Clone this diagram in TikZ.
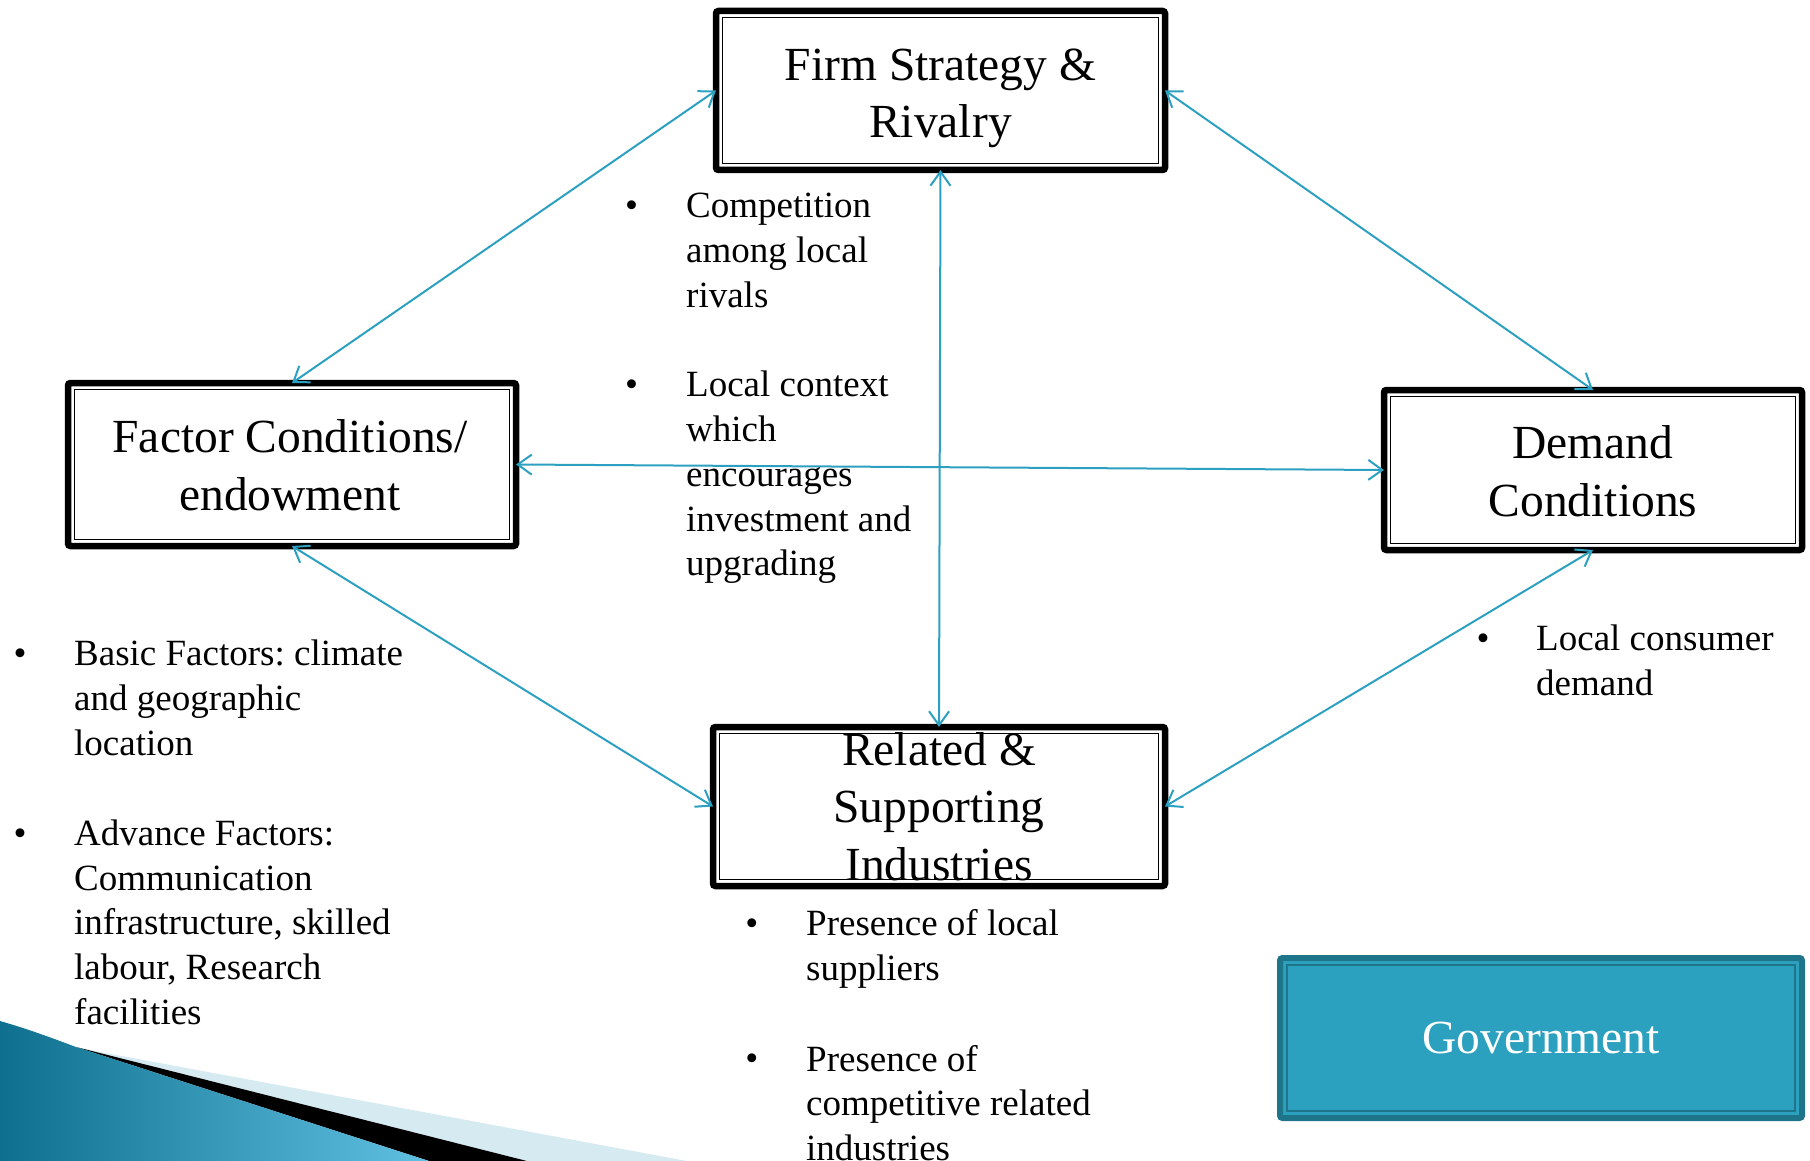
\documentclass[tikz,border=0pt]{standalone}
\usepackage{fontspec}
\setmainfont{Liberation Serif}
\usetikzlibrary{arrows.meta}
\definecolor{arrowc}{RGB}{44,160,192}
\definecolor{govfill}{RGB}{44,161,191}
\definecolor{govdark}{RGB}{30,117,137}
\definecolor{swoosha}{RGB}{14,112,142}
\definecolor{swooshb}{RGB}{96,192,226}
\definecolor{paleblue}{RGB}{214,234,242}
\frenchspacing
\begin{document}
\begin{tikzpicture}[x=1pt,y=-1pt,
  box/.style={draw=black, line width=6.5pt, rounded corners=2.5pt, inner sep=0pt, outer sep=0pt},
  innerline/.style={draw=black, line width=1.4pt},
  title/.style={font=\fontsize{47.5}{57.5}\selectfont, align=center, anchor=north, inner sep=0pt},
  bultext/.style={font=\fontsize{37}{44.7}\selectfont, align=left, anchor=north west, inner sep=0pt},
  bulmark/.style={font=\fontsize{37}{44.7}\selectfont, anchor=base west, inner sep=0pt},
  conn/.style={draw=arrowc, line width=2pt, {Straight Barb[length=14pt,width=20pt]}-{Straight Barb[length=14pt,width=20pt]}},
  govbox/.style={draw=govdark, fill=govfill, line width=6pt, rounded corners=2.5pt, inner sep=0pt, outer sep=0pt,
    text=white, font=\fontsize{47.5}{57.5}\selectfont}
]
\useasboundingbox (0,0) rectangle (1810,1161);

% decorative swoosh
\fill[paleblue] (68,1046) -- (687,1161) -- (527,1161) -- cycle;
\fill[black] (76,1047) -- (527,1161) -- (429,1161) -- cycle;
\shade[left color=swoosha, right color=swooshb] (0,1021) .. controls (28,1029) and (52,1038) .. (76,1047) -- (429,1161) -- (0,1161) -- cycle;

% boxes
\node[box, minimum width=449pt, minimum height=159pt] (firm) at (940.5,90.5) {};
\node[box, minimum width=448pt, minimum height=163pt] (factor) at (292,464.5) {};
\node[box, minimum width=418pt, minimum height=160pt] (demand) at (1593,470) {};
\node[box, minimum width=452pt, minimum height=159pt] (related) at (939,806.5) {};
\foreach \n in {firm,factor,demand,related}
  \draw[innerline] ([xshift=6.5pt,yshift=-6.5pt]\n.north west) rectangle ([xshift=-6.5pt,yshift=6.5pt]\n.south east);

\node[title] (firmt) at (940.5,39.75) {\strut Firm Strategy \&\\Rivalry};
\node[title] (factort) at (290,412.45) {\strut Factor Conditions/\\endowment};
\node[title] (demandt) at (1593,418.5) {\strut Demand\\Conditions};
\node[title] (relatedt) at (939,724.75) {\strut Related \&\\Supporting\\Industries};

% government
\node[govbox, minimum width=522pt, minimum height=160pt] (gov) at (1541,1038) {Government};
\draw[draw=govdark, line width=1.5pt] ([xshift=7pt,yshift=-7pt]gov.north west) rectangle ([xshift=-7pt,yshift=7pt]gov.south east);

% connectors
\draw[conn] (firm.west) -- (factor.north);
\draw[conn] (firm.east) -- (demand.north);
\draw[conn] (firm.south) -- (related.north);
\draw[conn] (factor.east) -- (demand.west);
\draw[conn] (factor.south) -- (related.west);
\draw[conn] (demand.south) -- (related.east);

% bullet texts: centre
\node[bulmark] (m1) at (625,217.5) {•};
\node[bultext] (t1) at (686,186.2) {\strut Competition\\among local\\rivals};
\node[bulmark] (m2) at (625,396.8) {•};
\node[bultext] (t2) at (686,365.5) {\strut Local context\\which\\encourages\\investment and\\upgrading};
% left
\node[bulmark] (m3) at (13.5,665.8) {•};
\node[bultext] (t3) at (74,634.5) {\strut Basic Factors: climate\\and geographic\\location};
\node[bulmark] (m4) at (13.5,845.2) {•};
\node[bultext] (t4) at (74,813.9) {\strut Advance Factors:\\Communication\\infrastructure, skilled\\labour, Research\\facilities};
% bottom
\node[bulmark] (m5) at (745.2,935.8) {•};
\node[bultext] (t5) at (806,904.5) {\strut Presence of local\\suppliers};
\node[bulmark] (m6) at (745.2,1070.8) {•};
\node[bultext] (t6) at (806,1039.5) {\strut Presence of\\competitive related\\industries};
% right
\node[bulmark] (m7) at (1476.5,650.5) {•};
\node[bultext] (t7) at (1536,619.2) {\strut Local consumer\\demand};
\end{tikzpicture}
\end{document}
